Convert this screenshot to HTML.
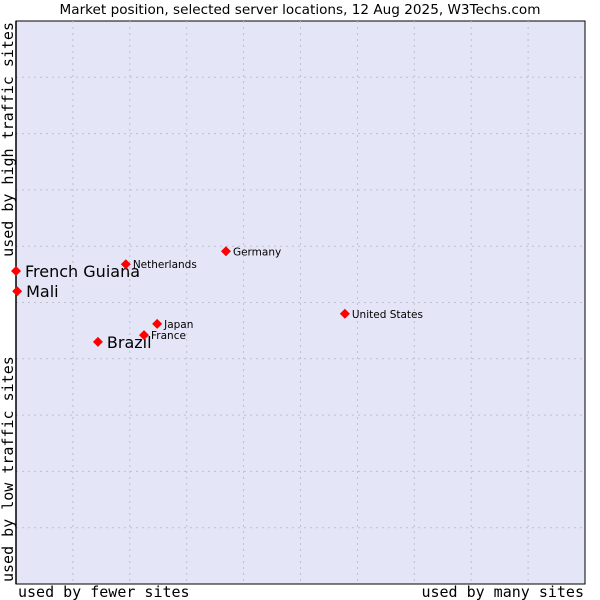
<!DOCTYPE html>
<html><head><meta charset="utf-8"><style>
body{margin:0;background:#fff;}
svg{display:block;}
</style></head><body>
<svg id="chart" width="600" height="600" xmlns="http://www.w3.org/2000/svg">
<rect x="0" y="0" width="600" height="600" fill="#fff"/>
<text x="300" y="14" text-anchor="middle" font-family="DejaVu Sans, sans-serif" font-size="13.6" fill="#000">Market position, selected server locations, 12 Aug 2025, W3Techs.com</text>
<rect x="16" y="21" width="569" height="563" fill="#e5e5f8" stroke="#000" stroke-width="1"/>
<g id="grid"></g>
<line x1="16" y1="21" x2="16" y2="584" stroke="#000" stroke-width="1.5"/>
<line x1="16" y1="584" x2="585" y2="584" stroke="#000" stroke-width="1"/>
<text x="18" y="597" font-family="DejaVu Sans Mono, monospace" font-size="15" fill="#000">used by fewer sites</text>
<text x="584" y="597" text-anchor="end" font-family="DejaVu Sans Mono, monospace" font-size="15" fill="#000">used by many sites</text>
<text transform="translate(13,22) rotate(-90)" text-anchor="end" font-family="DejaVu Sans Mono, monospace" font-size="15" fill="#000">used by high traffic sites</text>
<text transform="translate(13,582) rotate(-90)" font-family="DejaVu Sans Mono, monospace" font-size="15" fill="#000">used by low traffic sites</text>
<g id="points"></g>
</svg>
<script>
const countries = ["French Guiana","Mali","Brazil","Netherlands","Germany","United States","Japan","France"];
const xValues = [0,0.2,14.4,19.3,36.9,57.8,24.8,22.5];
const yValues = [55.6,52.0,43.0,56.8,59.1,48.0,46.2,44.2];
const bigLabel = [true,true,true,false,false,false,false,false];
const gridTicks = [10,20,30,40,50,60,70,80,90];

const X0=16,X1=585,Y0=584,Y1=21;
const xs=v=>X0+(X1-X0)*v/100;
const ys=v=>Y0-(Y0-Y1)*v/100;
const NS="http://www.w3.org/2000/svg";
const grid=document.getElementById('grid');
gridTicks.forEach(t=>{
  const a=document.createElementNS(NS,'line');
  
  
  a.setAttribute('x1',xs(t));a.setAttribute('x2',xs(t));a.setAttribute('y1',Y1);a.setAttribute('y2',Y0);
  a.setAttribute('stroke','#c0c0c8');a.setAttribute('stroke-dasharray','2,4');
  grid.appendChild(a);
  const b=document.createElementNS(NS,'line');
  
  
  b.setAttribute('y1',ys(t));b.setAttribute('y2',ys(t));b.setAttribute('x1',X0);b.setAttribute('x2',X1);
  b.setAttribute('stroke','#c0c0c8');b.setAttribute('stroke-dasharray','2,4');
  grid.appendChild(b);
});
const pts=document.getElementById('points');
countries.forEach((c,i)=>{
  const x=xs(xValues[i]),y=ys(yValues[i]);
  const g=document.createElementNS(NS,'g');
  
  
  const p=document.createElementNS(NS,'polygon');
  
  
  p.setAttribute('points',`${x},${y-5} ${x+5},${y} ${x},${y+5} ${x-5},${y}`);
  p.setAttribute('fill','#f00');
  g.appendChild(p);
  const t=document.createElementNS(NS,'text');
  
  
  t.setAttribute('x',x+(bigLabel[i]?9:7));
  t.setAttribute('y',y+(bigLabel[i]?6:4));
  t.setAttribute('font-family','DejaVu Sans, sans-serif');
  t.setAttribute('font-size',bigLabel[i]?'16':'10.5');
  t.setAttribute('fill','#000');
  t.textContent=c;
  g.appendChild(t);
  pts.appendChild(g);
});
</script>
</body></html>
